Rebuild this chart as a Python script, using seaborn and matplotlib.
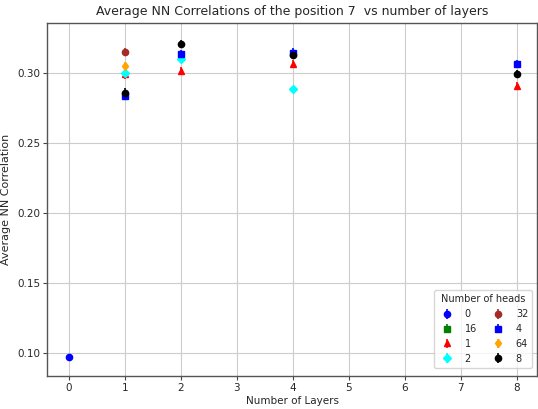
import matplotlib
matplotlib.use('Agg')
import matplotlib.pyplot as plt
import seaborn as sns
import pandas as pd

sns.set_style('whitegrid')

# data: heads -> (layers, correlation, error)
heads = ['0', '16', '1', '2', '32', '4', '64', '8']
layers = {
    '0': [0],
    '16': [],
    '1': [1, 2, 4, 8],
    '2': [1, 2, 4],
    '32': [1],
    '4': [1, 2, 4, 8],
    '64': [1],
    '8': [1, 2, 4, 8],
}
corr = {
    '0': [0.097],
    '16': [],
    '1': [0.299, 0.3016, 0.3064, 0.2907],
    '2': [0.300, 0.310, 0.2886],
    '32': [0.315],
    '4': [0.2836, 0.3136, 0.3145, 0.3064],
    '64': [0.305],
    '8': [0.286, 0.3207, 0.313, 0.2993],
}
err = {
    '0': [0.001],
    '16': [],
    '1': [0.003, 0.003, 0.003, 0.003],
    '2': [0.002, 0.002, 0.002],
    '32': [0.003],
    '4': [0.003, 0.003, 0.003, 0.003],
    '64': [0.003],
    '8': [0.003, 0.003, 0.003, 0.003],
}
colors = {'0': 'blue', '16': 'green', '1': 'red', '2': 'cyan',
          '32': 'brown', '4': 'blue', '64': 'orange', '8': 'black'}
markers = {'0': 'o', '16': 's', '1': '^', '2': 'D',
           '32': 'o', '4': 's', '64': 'd', '8': 'o'}

fig, ax = plt.subplots(figsize=(5.38, 4.09), dpi=100)

for h in heads:
    df = pd.DataFrame({'layers': layers[h], 'corr': corr[h], 'err': err[h]}, dtype=float)
    ax.errorbar(df['layers'], df['corr'], yerr=df['err'], fmt=markers[h],
                color=colors[h], markersize=4.5, elinewidth=1.2, label=h)

ax.set_xlim(-0.39, 8.36)
ax.set_ylim(0.0836, 0.3357)
ax.set_xticks(range(0, 9))
ax.set_yticks([0.10, 0.15, 0.20, 0.25, 0.30])
ax.tick_params(axis='both', labelsize=7.5, length=3, pad=2, color='#444444', bottom=True, left=True)
for s in ax.spines.values():
    s.set_color('#555555')
    s.set_linewidth(1)
ax.grid(True, color='#cccccc', linewidth=0.8)

ax.set_title('Average NN Correlations of the position 7  vs number of layers', fontsize=9)
ax.set_xlabel('Number of Layers', fontsize=7.5, labelpad=2)
ax.set_ylabel('Average NN Correlation', fontsize=8)
ax.legend(title='Number of heads', ncol=2, loc='lower right', fontsize=7,
          title_fontsize=7, handletextpad=0.8, columnspacing=1.2,
          bbox_to_anchor=(1.0, 0.01))

fig.subplots_adjust(left=47 / 538, right=537 / 538, top=1 - 23 / 409, bottom=1 - 376 / 409)
plt.savefig('out.png', dpi=100)
plt.close()
